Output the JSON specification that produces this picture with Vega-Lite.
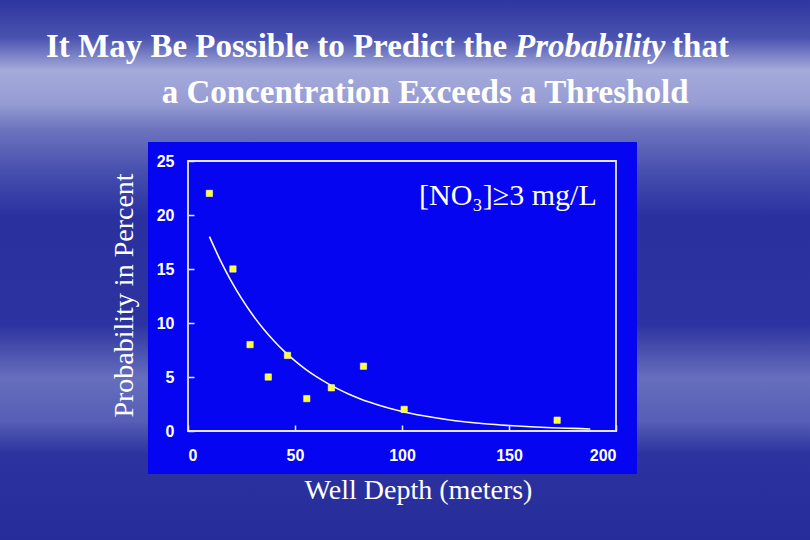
{
  "$schema": "https://vega.github.io/schema/vega-lite/v6.json",
  "width": 428,
  "height": 270,
  "autosize": {"type": "none"},
  "padding": {"left": 188, "top": 161, "right": 194, "bottom": 109},
  "background": "#3a42a8",
  "config": {
    "view": {"stroke": null},
    "axis": {
      "grid": false,
      "domain": false,
      "labelColor": "white",
      "labelFont": "Liberation Sans",
      "labelFontWeight": "bold",
      "labelFontSize": 16,
      "tickColor": "#e8e8f4",
      "tickWidth": 1.5,
      "titleColor": "white",
      "titleFont": "Liberation Serif",
      "titleFontWeight": "normal",
      "titleFontSize": 28
    }
  },
  "datasets": {
    "obs": [
      {"depth": 10, "prob": 22},
      {"depth": 21, "prob": 15},
      {"depth": 29, "prob": 8},
      {"depth": 37.5, "prob": 5},
      {"depth": 46.5, "prob": 7},
      {"depth": 55.5, "prob": 3},
      {"depth": 67, "prob": 4},
      {"depth": 82, "prob": 6},
      {"depth": 101, "prob": 2},
      {"depth": 172.5, "prob": 1}
    ],
    "fit": [
      {"depth": 10, "prob": 18.0},
      {"depth": 15, "prob": 15.85},
      {"depth": 20, "prob": 13.95},
      {"depth": 25, "prob": 12.28},
      {"depth": 30, "prob": 10.81},
      {"depth": 35, "prob": 9.51},
      {"depth": 40, "prob": 8.38},
      {"depth": 45, "prob": 7.37},
      {"depth": 50, "prob": 6.49},
      {"depth": 55, "prob": 5.71},
      {"depth": 60, "prob": 5.03},
      {"depth": 65, "prob": 4.43},
      {"depth": 70, "prob": 3.90},
      {"depth": 75, "prob": 3.43},
      {"depth": 80, "prob": 3.02},
      {"depth": 85, "prob": 2.66},
      {"depth": 90, "prob": 2.34},
      {"depth": 100, "prob": 1.81},
      {"depth": 110, "prob": 1.41},
      {"depth": 120, "prob": 1.09},
      {"depth": 130, "prob": 0.84},
      {"depth": 140, "prob": 0.65},
      {"depth": 150, "prob": 0.51},
      {"depth": 160, "prob": 0.39},
      {"depth": 170, "prob": 0.30},
      {"depth": 180, "prob": 0.24},
      {"depth": 188, "prob": 0.19}
    ]
  },
  "layer": [
    {
      "data": {"values": [{}]},
      "mark": {
        "type": "rect",
        "clip": false,
        "fill": {
          "gradient": "linear", "x1": 0, "y1": 0, "x2": 0, "y2": 1,
          "stops": [
            {"offset": 0, "color": "#2e36a0"},
            {"offset": 0.07, "color": "#4a52b0"},
            {"offset": 0.13, "color": "#a4aada"},
            {"offset": 0.19, "color": "#979dd4"},
            {"offset": 0.24, "color": "#6c74be"},
            {"offset": 0.32, "color": "#464eae"},
            {"offset": 0.40, "color": "#2a319f"},
            {"offset": 0.60, "color": "#2c33a0"},
            {"offset": 0.70, "color": "#666ebd"},
            {"offset": 0.78, "color": "#565eb6"},
            {"offset": 0.84, "color": "#2c339f"},
            {"offset": 1, "color": "#262d9a"}
          ]
        }
      },
      "encoding": {
        "x": {"datum": -87.9, "type": "quantitative", "scale": {"domain": [0, 200], "nice": false}, "axis": {"values": [0, 50, 100, 150, 200], "tickSize": -6, "labelPadding": 22, "zindex": 1, "title": "Well Depth (meters)", "titleX": 230, "titleY": 67, "titleBaseline": "alphabetic", "titleAlign": "center"}},
        "x2": {"datum": 290.7},
        "y": {"datum": -10.1, "type": "quantitative", "scale": {"domain": [0, 25], "nice": false}, "axis": {"values": [0, 5, 10, 15, 20, 25], "tickSize": -6, "labelPadding": 20, "zindex": 1, "title": "Probability in Percent", "titleAngle": -90, "titleX": -56, "titleY": 134, "titleBaseline": "alphabetic", "titleAlign": "center"}},
        "y2": {"datum": 39.9}
      }
    },
    {
      "data": {"values": [{}]},
      "mark": {"type": "rect", "fill": "#0505f2", "clip": false},
      "encoding": {
        "x": {"datum": -18.7, "type": "quantitative"},
        "x2": {"datum": 209.8},
        "y": {"datum": -3.98, "type": "quantitative"},
        "y2": {"datum": 26.76}
      }
    },
    {
      "data": {"values": [{}]},
      "mark": {"type": "rect", "fill": null, "stroke": "#e4e4f2", "strokeWidth": 1.8, "clip": false},
      "encoding": {
        "x": {"datum": 0, "type": "quantitative"},
        "x2": {"datum": 200},
        "y": {"datum": 0, "type": "quantitative"},
        "y2": {"datum": 25}
      }
    },
    {
      "data": {"name": "fit"},
      "mark": {"type": "line", "color": "#fbfbe4", "strokeWidth": 1.6, "interpolate": "monotone"},
      "encoding": {
        "x": {"field": "depth", "type": "quantitative"},
        "y": {"field": "prob", "type": "quantitative"}
      }
    },
    {
      "data": {"name": "obs"},
      "mark": {"type": "point", "shape": "square", "filled": true, "size": 40, "fill": "#ffff33", "stroke": "#ffffb0", "strokeWidth": 0.6, "opacity": 1},
      "encoding": {
        "x": {"field": "depth", "type": "quantitative"},
        "y": {"field": "prob", "type": "quantitative"}
      }
    },
    {
      "data": {"values": [{"label": "[NO₃]≥3 mg/L"}]},
      "mark": {"type": "text", "align": "right", "baseline": "alphabetic", "font": "Liberation Serif", "color": "white", "fontSize": 30},
      "encoding": {
        "x": {"datum": 191, "type": "quantitative"},
        "y": {"datum": 20.9, "type": "quantitative"},
        "text": {"field": "label"}
      }
    },
    {
      "data": {"values": [{"label": "It May Be Possible to Predict the"}]},
      "mark": {"type": "text", "align": "left", "baseline": "alphabetic", "font": "Liberation Serif", "color": "white", "fontSize": 33, "fontWeight": "bold", "clip": false},
      "encoding": {
        "x": {"datum": -66.4, "type": "quantitative"},
        "y": {"datum": 34.66, "type": "quantitative"},
        "text": {"field": "label"}
      }
    },
    {
      "data": {"values": [{"label": "Probability"}]},
      "mark": {"type": "text", "align": "left", "baseline": "alphabetic", "font": "Liberation Serif", "color": "white", "fontSize": 33, "fontWeight": "bold", "fontStyle": "italic", "clip": false},
      "encoding": {
        "x": {"datum": 152.8, "type": "quantitative"},
        "y": {"datum": 34.66, "type": "quantitative"},
        "text": {"field": "label"}
      }
    },
    {
      "data": {"values": [{"label": "that"}]},
      "mark": {"type": "text", "align": "left", "baseline": "alphabetic", "font": "Liberation Serif", "color": "white", "fontSize": 33, "fontWeight": "bold", "clip": false},
      "encoding": {
        "x": {"datum": 226.2, "type": "quantitative"},
        "y": {"datum": 34.66, "type": "quantitative"},
        "text": {"field": "label"}
      }
    },
    {
      "data": {"values": [{"label": "a Concentration Exceeds a Threshold"}]},
      "mark": {"type": "text", "align": "left", "baseline": "alphabetic", "font": "Liberation Serif", "color": "white", "fontSize": 33, "fontWeight": "bold", "clip": false},
      "encoding": {
        "x": {"datum": -12.3, "type": "quantitative"},
        "y": {"datum": 30.34, "type": "quantitative"},
        "text": {"field": "label"}
      }
    }
  ]
}
